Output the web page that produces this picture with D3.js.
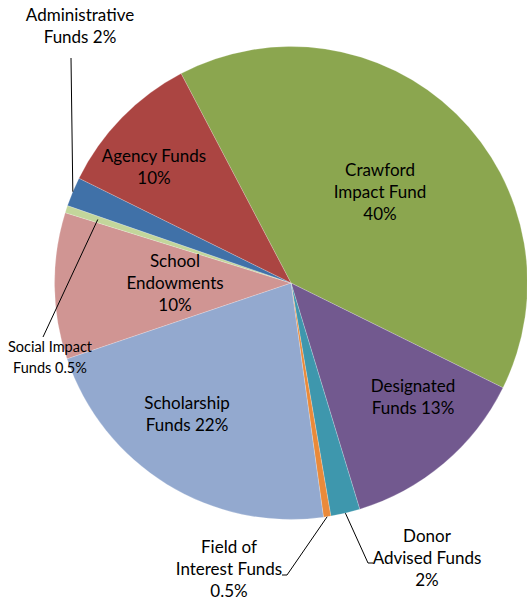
<!DOCTYPE html>
<html>
<head>
<meta charset="utf-8">
<script src="https://d3js.org/d3.v7.min.js"></script>
<style>
  body { margin: 0; background: #fff; }
  text { font-family: Lato, "Open Sans", sans-serif; fill: #000; }
</style>
</head>
<body>
<div id="chart"></div>
<script>
// slices in clockwise order, starting with Crawford
var categories = ["Crawford Impact Fund", "Designated Funds", "Donor Advised Funds",
    "Field of Interest Funds", "Scholarship Funds", "School Endowments",
    "Social Impact Funds", "Administrative Funds", "Agency Funds"];
var values = [40, 13, 2, 0.5, 22, 10, 0.5, 2, 10];
var labelLines = [
    ["Crawford", "Impact Fund", "40%"],
    ["Designated", "Funds 13%"],
    ["Donor", "Advised Funds", "2%"],
    ["Field of", "Interest Funds", "0.5%"],
    ["Scholarship", "Funds 22%"],
    ["School", "Endowments", "10%"],
    ["Social Impact", "Funds 0.5%"],
    ["Administrative", "Funds 2%"],
    ["Agency Funds", "10%"]
];
var colors = ["#8ba64f", "#72598f", "#3e97ad", "#ea8a3a", "#93a9cf",
    "#d09593", "#c3d69b", "#4071a8", "#ab4542"];

// label layout: x, first baseline, font size, leader (start radius factor, path points)
var layout = [
    { x: 380, y: 176, size: 17 },
    { x: 413, y: 392, size: 17 },
    { x: 427, y: 542, size: 17, leader: { r: 1.0, pts: [[368, 563], [373, 563]] } },
    { x: 229, y: 553, size: 17, leader: { r: 1.0, pts: [[287, 575], [282, 575]] } },
    { x: 187, y: 409, size: 17 },
    { x: 175, y: 267, size: 17 },
    { x: 50, y: 352, size: 14.5, lh: 21, leader: { r: 0.86, pts: [[43, 337]] } },
    { x: 80, y: 21, size: 17, leader: { r: 1.0, pts: [[71, 58]] } },
    { x: 154, y: 162, size: 17 }
];

var W = 527, H = 600;
var cx = 291, cy = 283, R = 236.5;
var startDeg = -27.7;

var svg = d3.select("#chart").append("svg")
    .attr("width", W)
    .attr("height", H);

var pie = d3.pie()
    .sort(null)
    .value(function (d) { return d; })
    .startAngle(startDeg * Math.PI / 180)
    .endAngle((startDeg + 360) * Math.PI / 180);

var arcs = pie(values);

var arc = d3.arc().innerRadius(0).outerRadius(R);

var g = svg.append("g").attr("transform", "translate(" + cx + "," + cy + ")");

g.selectAll("path.slice")
    .data(arcs)
    .enter().append("path")
    .attr("class", "slice")
    .attr("d", arc)
    .attr("fill", function (d, i) { return colors[i]; })
    .attr("stroke", "#ffffff")
    .attr("stroke-opacity", 0.35)
    .attr("stroke-width", 0.6);

// leader lines
arcs.forEach(function (d, i) {
    var L = layout[i].leader;
    if (!L) return;
    var a = (d.startAngle + d.endAngle) / 2;
    var p0 = [cx + Math.sin(a) * R * L.r, cy - Math.cos(a) * R * L.r];
    var pts = [p0].concat(L.pts);
    svg.append("path")
        .attr("d", d3.line()(pts))
        .attr("fill", "none")
        .attr("stroke", "#000")
        .attr("stroke-width", 1);
});

// labels
labelLines.forEach(function (lines, i) {
    var lay = layout[i];
    var lh = lay.lh || 22;
    var t = svg.append("text")
        .attr("text-anchor", "middle")
        .style("font-size", lay.size + "px");
    lines.forEach(function (s, j) {
        t.append("tspan")
            .attr("x", lay.x)
            .attr("y", lay.y + j * lh)
            .text(s);
    });
});
</script>
</body>
</html>
